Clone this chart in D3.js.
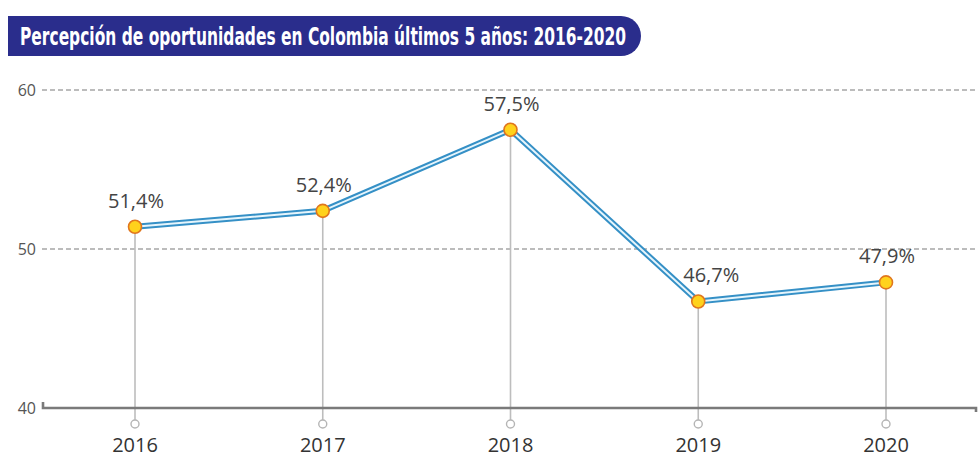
<!DOCTYPE html>
<html>
<head>
<meta charset="utf-8">
<script src="https://cdn.jsdelivr.net/npm/d3@7"></script>
<style>
  body { margin: 0; background: #fff; }
  svg { display: block; }
</style>
</head>
<body>
<div class="chart"></div>
<script>
var width = 980,
	height = 457;

// data
var years = ["2016", "2017", "2018", "2019", "2020"];
var values = [51.4, 52.4, 57.5, 46.7, 47.9];
var valueLabels = ["51,4%", "52,4%", "57,5%", "46,7%", "47,9%"];
var yTicks = [40, 50, 60];
var title = "Percepción de oportunidades en Colombia últimos 5 años: 2016-2020";

var svg = d3.select(".chart")
	.append("svg")
	.attr("width", width)
	.attr("height", height);

var x = d3.scalePoint()
	.domain(years)
	.range([135, 886]);

var y = d3.scaleLinear()
	.domain([40, 60])
	.range([408, 90]);

// title pill
var pillLeft = 8, pillRight = 641, pillTop = 16, pillBottom = 56, r = (pillBottom - pillTop) / 2;
svg.append("path")
	.attr("d", "M" + pillLeft + "," + pillTop +
		"L" + (pillRight - r) + "," + pillTop +
		"A" + r + "," + r + " 0 0 1 " + (pillRight - r) + "," + pillBottom +
		"L" + pillLeft + "," + pillBottom + "Z")
	.attr("fill", "#2a2d8c");

svg.append("text")
	.attr("x", 20)
	.attr("y", 45)
	.attr("fill", "#fff")
	.attr("font-family", "'Liberation Sans Narrow', 'DejaVu Sans Condensed', sans-serif")
	.attr("font-weight", "bold")
	.attr("font-size", 25)
	.attr("textLength", 606)
	.attr("lengthAdjust", "spacingAndGlyphs")
	.text(title);

// dashed gridlines (not at baseline)
svg.selectAll(".grid")
	.data(yTicks.filter(function(d){ return d > 40; }))
	.enter()
	.append("line")
	.attr("x1", 42)
	.attr("x2", 976)
	.attr("y1", function(d){ return y(d); })
	.attr("y2", function(d){ return y(d); })
	.attr("stroke", "#7a7a7a")
	.attr("stroke-width", 1.2)
	.attr("stroke-dasharray", "5,3");

// y tick labels
svg.selectAll(".ylab")
	.data(yTicks)
	.enter()
	.append("text")
	.attr("x", 36)
	.attr("y", function(d){ return y(d) + 6; })
	.attr("text-anchor", "end")
	.attr("fill", "#555")
	.attr("font-family", "'Open Sans', sans-serif")
	.attr("font-size", 16)
	.text(function(d){ return d; });

// drop lines
svg.selectAll(".drop")
	.data(values)
	.enter()
	.append("line")
	.attr("x1", function(d, i){ return x(years[i]); })
	.attr("x2", function(d, i){ return x(years[i]); })
	.attr("y1", function(d){ return y(d); })
	.attr("y2", y(40) + 12)
	.attr("stroke", "#bdbdbd")
	.attr("stroke-width", 1.6);

// baseline axis
svg.append("path")
	.attr("d", "M43," + (y(40) - 6) + "L43," + y(40) + "L976," + y(40) + "L976," + (y(40) + 4))
	.attr("fill", "none")
	.attr("stroke", "#7a7a7a")
	.attr("stroke-width", 2.6);

// small hollow circles under the axis
svg.selectAll(".tickdot")
	.data(years)
	.enter()
	.append("circle")
	.attr("cx", function(d){ return x(d); })
	.attr("cy", y(40) + 16)
	.attr("r", 4)
	.attr("fill", "#fff")
	.attr("stroke", "#b5b5b5")
	.attr("stroke-width", 1.4);

// year labels
svg.selectAll(".xlab")
	.data(years)
	.enter()
	.append("text")
	.attr("x", function(d){ return x(d); })
	.attr("y", 452)
	.attr("text-anchor", "middle")
	.attr("fill", "#333")
	.attr("font-family", "'Open Sans', sans-serif")
	.attr("font-size", 20)
	.text(function(d){ return d; });

// the double line
var line = d3.line()
	.x(function(d, i){ return x(years[i]); })
	.y(function(d){ return y(d); });

svg.append("path")
	.datum(values)
	.attr("d", line)
	.attr("fill", "none")
	.attr("stroke", "#3590c6")
	.attr("stroke-width", 6)
	.attr("stroke-linejoin", "miter");

svg.append("path")
	.datum(values)
	.attr("d", line)
	.attr("fill", "none")
	.attr("stroke", "#e6f5fc")
	.attr("stroke-width", 2)
	.attr("stroke-linejoin", "miter");

// points
svg.selectAll(".pt")
	.data(values)
	.enter()
	.append("circle")
	.attr("cx", function(d, i){ return x(years[i]); })
	.attr("cy", function(d){ return y(d); })
	.attr("r", 6.5)
	.attr("fill", "#ffd21c")
	.attr("stroke", "#e0761e")
	.attr("stroke-width", 1.6);

// value labels (the 2019 one sits a bit to the right of its point)
svg.selectAll(".vlab")
	.data(values)
	.enter()
	.append("text")
	.attr("x", function(d, i){ return x(years[i]) + (i === 3 ? 13 : 1); })
	.attr("y", function(d){ return y(d) - 19; })
	.attr("text-anchor", "middle")
	.attr("fill", "#444")
	.attr("font-family", "'Open Sans', sans-serif")
	.attr("font-size", 20)
	.text(function(d, i){ return valueLabels[i]; });
</script>
</body>
</html>
